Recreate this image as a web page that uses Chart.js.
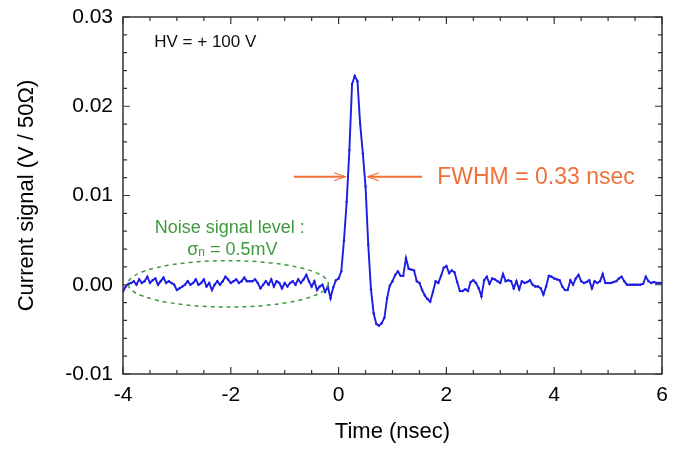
<!DOCTYPE html>
<html><head><meta charset="utf-8">
<script src="https://cdn.jsdelivr.net/npm/chart.js@4.4.1/dist/chart.umd.min.js"></script>
<style>html,body{margin:0;padding:0;background:#fff;} canvas{display:block;}</style>
</head><body>
<canvas id="c" width="676" height="449"></canvas>
<script>
// ---- data (time in nsec, signal in V / 50 Ohm) ----
const timeNs = [
-4,-3.95,-3.9,-3.85,-3.8,-3.75,-3.7,-3.65,-3.6,-3.55,-3.5,-3.45,-3.4,-3.35,-3.3,-3.25,-3.2,-3.15,-3.1,-3.05,
-3,-2.95,-2.9,-2.85,-2.8,-2.75,-2.7,-2.65,-2.6,-2.55,-2.5,-2.45,-2.4,-2.35,-2.3,-2.25,-2.2,-2.15,-2.1,-2.05,
-2,-1.95,-1.9,-1.85,-1.8,-1.75,-1.7,-1.65,-1.6,-1.55,-1.5,-1.45,-1.4,-1.35,-1.3,-1.25,-1.2,-1.15,-1.1,-1.05,
-1,-0.95,-0.9,-0.85,-0.8,-0.75,-0.7,-0.65,-0.6,-0.55,-0.5,-0.45,-0.4,-0.35,-0.3,-0.25,-0.2,-0.15,-0.1,-0.05,
0,0.05,0.1,0.15,0.2,0.25,0.3,0.35,0.4,0.45,0.5,0.55,0.6,0.65,0.7,0.75,0.8,0.85,0.9,0.95,
1,1.05,1.1,1.15,1.2,1.25,1.3,1.35,1.4,1.45,1.5,1.55,1.6,1.65,1.7,1.75,1.8,1.85,1.9,1.95,
2,2.05,2.1,2.15,2.2,2.25,2.3,2.35,2.4,2.45,2.5,2.55,2.6,2.65,2.7,2.75,2.8,2.85,2.9,2.95,
3,3.05,3.1,3.15,3.2,3.25,3.3,3.35,3.4,3.45,3.5,3.55,3.6,3.65,3.7,3.75,3.8,3.85,3.9,3.95,
4,4.05,4.1,4.15,4.2,4.25,4.3,4.35,4.4,4.45,4.5,4.55,4.6,4.65,4.7,4.75,4.8,4.85,4.9,4.95,
5,5.05,5.1,5.15,5.2,5.25,5.3,5.35,5.4,5.45,5.5,5.55,5.6,5.65,5.7,5.75,5.8,5.85,5.9,5.95,6
];
const signalV = [
-0.0008,-0.0002,0.0001,0.0002,0.0004,0.0000,0.0006,0.0002,0.0004,0.0009,0.0002,0.0005,0.0007,0.0000,0.0004,0.0008,0.0002,0.0004,0.0002,0.0000,
-0.0006,-0.0004,-0.0002,0.0000,0.0004,0.0000,0.0002,0.0006,0.0000,0.0002,0.0006,-0.0002,0.0002,-0.0006,0.0000,0.0004,0.0000,0.0004,0.0009,0.0006,
0.0002,0.0004,0.0006,0.0002,0.0004,0.0008,0.0004,0.0004,0.0004,0.0006,0.0002,-0.0004,0.0000,0.0004,0.0000,0.0006,-0.0002,0.0004,0.0002,-0.0004,
0.0002,-0.0002,0.0002,0.0004,0.0000,0.0006,0.0002,0.0006,0.0011,0.0004,-0.0002,0.0004,-0.0006,-0.0002,0.0000,-0.0008,-0.0002,-0.0015,-0.0003,0.0005,
0.0007,0.0015,0.0050,0.0093,0.0151,0.0225,0.0234,0.0228,0.0180,0.0147,0.0110,0.0045,-0.0005,-0.0032,-0.0044,-0.0046,-0.0043,-0.0037,-0.0015,-0.0001,
0.0004,0.0011,0.0015,0.0010,0.0010,0.0030,0.0018,0.0017,0.0016,0.0004,0.0002,-0.0006,-0.0012,-0.0016,-0.0019,-0.0008,0.0004,0.0002,0.0010,0.0019,
0.0021,0.0013,0.0016,0.0014,0.0003,-0.0007,-0.0007,-0.0005,-0.0007,0.0003,0.0005,0.0002,-0.0004,-0.0013,0.0005,0.0009,0.0001,0.0007,0.0006,0.0004,
0.0002,0.0012,0.0004,0.0005,0.0004,-0.0004,0.0004,-0.0005,0.0004,0.0002,0.0003,0.0005,0.0000,-0.0002,-0.0002,-0.0004,-0.0011,-0.0002,0.0010,0.0009,
0.0007,0.0006,0.0005,-0.0002,-0.0006,-0.0006,0.0005,0.0000,0.0007,0.0011,0.0004,0.0002,0.0003,0.0005,-0.0004,0.0004,0.0002,0.0004,0.0012,0.0002,
0.0002,0.0002,0.0003,0.0004,0.0007,0.0009,0.0004,0.0000,0.0000,0.0000,0.0000,0.0000,0.0000,0.0001,0.0009,0.0004,0.0002,0.0003,0.0002,0.0002,0.0002
];
const xTickValues = [-4, -2, 0, 2, 4, 6];
const xTickLabels = ['-4', '-2', '0', '2', '4', '6'];
const yTickValues = [-0.01, 0, 0.01, 0.02, 0.03];
const yTickLabels = ['-0.01', '0.00', '0.01', '0.02', '0.03'];
const xTitle = 'Time (nsec)';
const yTitle = 'Current signal (V / 50\u03A9)';
const hvText = 'HV = + 100 V';
const fwhmText = 'FWHM = 0.33 nsec';
const noiseLine1 = 'Noise signal level :';
const noiseSigma = '\u03C3', noiseSub = 'n', noiseRest = ' = 0.5mV';

const FONT = '"Liberation Sans", Arial, Helvetica, sans-serif';
const BLUE = '#1c1ce6';
const ORANGE = '#f0703a';
const GREEN = '#3f9a3f';

const annotPlugin = {
  id: 'annot',
  afterDatasetsDraw(chart) {
    const {ctx, chartArea: a, scales: {x, y}} = chart;
    const X = v => x.getPixelForValue(v), Y = v => y.getPixelForValue(v);
    ctx.save();
    // frame
    ctx.strokeStyle = '#333'; ctx.lineWidth = 1.5;
    ctx.strokeRect(a.left, a.top, a.right - a.left, a.bottom - a.top);
    // inward ticks
    ctx.lineWidth = 1.2;
    ctx.beginPath();
    for (let i = 0; i <= 20; i++) {
      const v = -4 + i * 0.5, px = X(v), L = (i % 4 === 0) ? 7 : 4;
      ctx.moveTo(px, a.bottom); ctx.lineTo(px, a.bottom - L);
      ctx.moveTo(px, a.top); ctx.lineTo(px, a.top + L);
    }
    for (let i = 0; i <= 20; i++) {
      const v = -0.01 + i * 0.002, py = Y(v), L = (i % 5 === 0) ? 7 : 4;
      ctx.moveTo(a.left, py); ctx.lineTo(a.left + L, py);
      ctx.moveTo(a.right, py); ctx.lineTo(a.right - L, py);
    }
    ctx.stroke();

    // HV label
    ctx.fillStyle = '#111';
    ctx.font = '17px ' + FONT;
    ctx.textAlign = 'left'; ctx.textBaseline = 'middle';
    ctx.fillText(hvText, X(-3.42), Y(0.0272));

    // FWHM arrows
    ctx.strokeStyle = ORANGE; ctx.fillStyle = ORANGE;
    const ay = Y(0.0121);
    const arrow = (from, to) => {
      const x1 = X(from), x2 = X(to), dir = Math.sign(x2 - x1);
      ctx.lineWidth = 1.8;
      ctx.beginPath(); ctx.moveTo(x1, ay); ctx.lineTo(x2, ay); ctx.stroke();
      ctx.lineWidth = 1.2;
      ctx.beginPath();
      ctx.moveTo(x2 - dir * 11, ay - 4); ctx.lineTo(x2, ay); ctx.lineTo(x2 - dir * 11, ay + 4);
      ctx.stroke();
    };
    arrow(-0.83, 0.12);
    arrow(1.55, 0.545);
    ctx.font = '23px ' + FONT;
    ctx.textAlign = 'left';
    ctx.fillText(fwhmText, X(1.83), Y(0.0120));

    // noise annotation
    ctx.fillStyle = GREEN; ctx.strokeStyle = GREEN;
    ctx.font = '18px ' + FONT; ctx.textAlign = 'center';
    ctx.fillText(noiseLine1, X(-2.02), Y(0.0064));
    const ly = Y(0.0039);
    const f1 = '18px ' + FONT, f2 = '12px ' + FONT;
    ctx.font = f1; const w1 = ctx.measureText(noiseSigma).width, w3 = ctx.measureText(noiseRest).width;
    ctx.font = f2; const w2 = ctx.measureText(noiseSub).width;
    let sx = X(-1.97) - (w1 + w2 + w3) / 2;
    ctx.textAlign = 'left';
    ctx.font = f1; ctx.fillText(noiseSigma, sx, ly); sx += w1;
    ctx.font = f2; ctx.fillText(noiseSub, sx, ly + 3); sx += w2;
    ctx.font = f1; ctx.fillText(noiseRest, sx, ly);

    // dashed ellipse
    const cx = X(-2.05), cy = Y(0.0001);
    const rx = X(-2.05 + 1.86) - cx, ry = cy - Y(0.0001 + 0.0026);
    ctx.setLineDash([4, 4]); ctx.lineWidth = 1.5;
    ctx.beginPath(); ctx.ellipse(cx, cy, rx, ry, 0, 0, Math.PI * 2); ctx.stroke();
    ctx.restore();
  }
};

new Chart(document.getElementById('c'), {
  type: 'line',
  data: {
    datasets: [{
      data: timeNs.map((t, i) => ({x: t, y: signalV[i]})),
      borderColor: BLUE, backgroundColor: BLUE,
      borderWidth: 1.9, pointRadius: 1.2, pointHoverRadius: 1.2,
      pointBackgroundColor: BLUE, pointBorderWidth: 0,
      tension: 0, fill: false
    }]
  },
  options: {
    responsive: false, animation: false, devicePixelRatio: 1,
    layout: {padding: {left: 14, top: 17, right: 14, bottom: 4}},
    plugins: {legend: {display: false}, tooltip: {enabled: false}},
    scales: {
      x: {
        type: 'linear', min: -4, max: 6,
        afterBuildTicks: s => { s.ticks = xTickValues.map(v => ({value: v})); },
        afterFit: s => { s.height = 71; s.paddingLeft = 0; s.paddingRight = 0; },
        grid: {display: false, drawTicks: false}, border: {display: false},
        ticks: {padding: 9, color: '#000', font: {family: FONT, size: 21},
                callback: (v, i) => xTickLabels[i]},
        title: {display: true, text: xTitle, color: '#000', padding: 0,
                font: {family: FONT, size: 22}}
      },
      y: {
        type: 'linear', min: -0.01, max: 0.03,
        afterBuildTicks: s => { s.ticks = yTickValues.map(v => ({value: v})); },
        afterFit: s => { s.width = 109; s.paddingTop = 0; s.paddingBottom = 0; },
        grid: {display: false, drawTicks: false}, border: {display: false},
        ticks: {padding: 10, color: '#000', font: {family: FONT, size: 21},
                callback: (v, i) => yTickLabels[i]},
        title: {display: true, text: yTitle, color: '#000', padding: 0,
                font: {family: FONT, size: 22}}
      }
    }
  },
  plugins: [annotPlugin]
});
</script>
</body></html>
